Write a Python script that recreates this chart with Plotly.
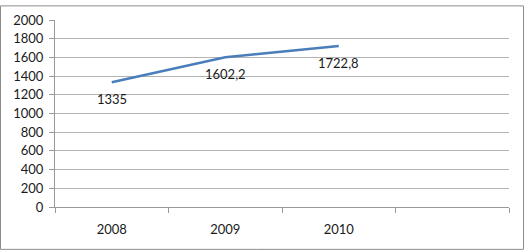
import plotly.graph_objects as go

years = ["2008", "2009", "2010"]
values = [1335, 1602.2, 1722.8]
labels = ["1335", "1602,2", "1722,8"]
all_categories = ["2008", "2009", "2010", " "]
y_ticks = list(range(0, 2001, 200))

W, H = 526, 252
ml, mr, mt, mb = 55, 17, 15, 45
pw, ph = W - ml - mr, H - mt - mb
FONT = "Lato, 'Open Sans', sans-serif"

fig = go.Figure()
fig.add_trace(go.Scatter(
    x=years, y=values, mode="lines",
    line=dict(color="#4a7ebb", width=2.5),
    hoverinfo="skip", showlegend=False,
))
for x, y, t in zip(years, values, labels):
    fig.add_annotation(x=all_categories.index(x), y=y, text=t, showarrow=False,
                       yshift=-17, xref="x", yref="y",
                       font=dict(family=FONT, size=13, color="#1a1a1a"))

fig.update_layout(
    width=W, height=H,
    margin=dict(l=ml, r=mr, t=mt, b=mb),
    paper_bgcolor="white", plot_bgcolor="white",
    font=dict(family=FONT, size=13, color="#1a1a1a"),
    xaxis=dict(
        type="category", categoryorder="array", categoryarray=all_categories,
        range=[-0.5, 3.5], tickson="boundaries", ticks="outside", ticklen=5,
        tickcolor="#999999", showgrid=False, showline=True, linecolor="#999999",
        linewidth=1, zeroline=False, fixedrange=True, ticklabelstandoff=10,
    ),
    yaxis=dict(
        range=[0, 2000], tickvals=y_ticks, ticks="outside", ticklen=5,
        tickcolor="#999999", showgrid=True, gridcolor="#b3b3b3", gridwidth=1,
        showline=True, linecolor="#999999", linewidth=1, zeroline=False,
        fixedrange=True, ticklabelstandoff=3,
    ),
    shapes=[dict(
        type="rect", xref="paper", yref="paper",
        x0=(0.5 - ml) / pw, x1=(W - 2.5 - ml) / pw,
        y0=-(mb - 1.5) / ph, y1=1 + (mt - 0.5) / ph,
        line=dict(color="#8c8c8c", width=1), layer="above",
    )],
)

fig.write_html("out.html")
